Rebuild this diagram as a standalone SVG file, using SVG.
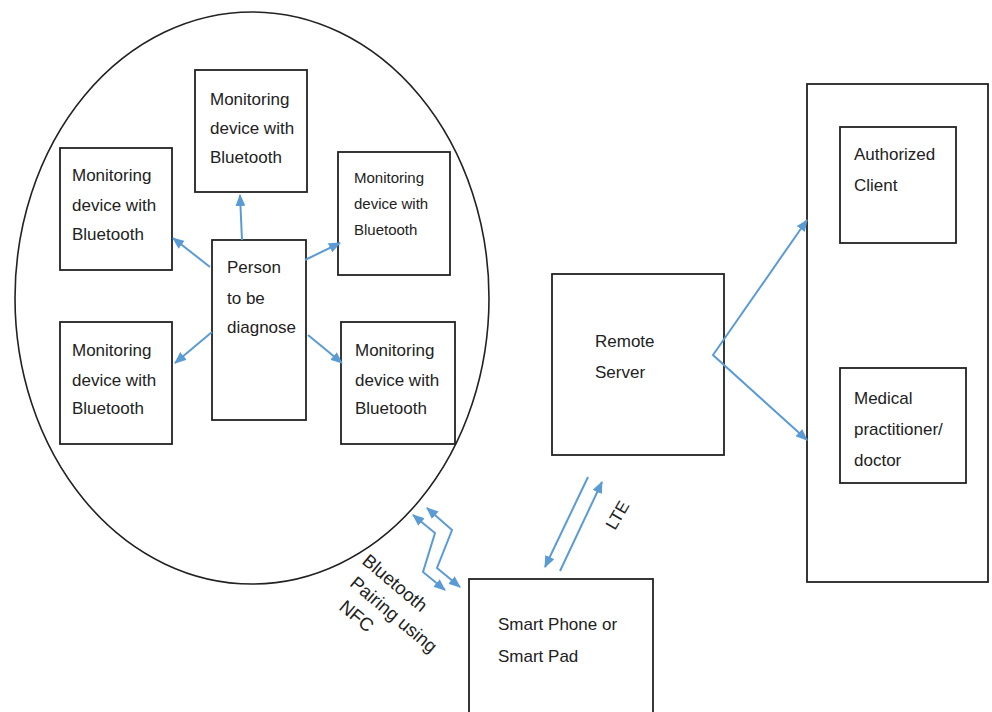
<svg xmlns="http://www.w3.org/2000/svg" width="992" height="712" viewBox="0 0 992 712">
<style>
.box{fill:#fff;stroke:#222;stroke-width:1.8}
.t{font-family:"Liberation Sans",Arial,sans-serif;font-size:17px;fill:#222}
.ts{font-family:"Liberation Sans",Arial,sans-serif;font-size:15px;fill:#222}
.tr{font-family:"Liberation Sans",Arial,sans-serif;font-size:18.5px;fill:#222}
.c{fill:none;stroke:#5b9bd5;stroke-width:2;stroke-linejoin:miter}
</style>
<defs>
<marker id="ah" viewBox="0 0 12 10" markerUnits="userSpaceOnUse" markerWidth="12" markerHeight="10" refX="11" refY="5" orient="auto-start-reverse">
<path d="M0,0 L12,5 L0,10 z" fill="#5b9bd5"/>
</marker>
</defs>
<rect width="992" height="712" fill="#fff"/>
<g id="group-circle">
<ellipse cx="252" cy="298" rx="237" ry="286" fill="none" stroke="#222" stroke-width="1.6"/>
</g>
<g id="node-device-top">
<rect class="box" x="195" y="70" width="112" height="122"/>
<text class="t" x="210" y="105">Monitoring</text>
<text class="t" x="210" y="134">device with</text>
<text class="t" x="210" y="163">Bluetooth</text>
</g>
<g id="node-device-left-top">
<rect class="box" x="60" y="148" width="112" height="122"/>
<text class="t" x="72" y="181">Monitoring</text>
<text class="t" x="72" y="211">device with</text>
<text class="t" x="72" y="240">Bluetooth</text>
</g>
<g id="node-device-right-top">
<rect class="box" x="338" y="152" width="112" height="123"/>
<text class="ts" x="354" y="183">Monitoring</text>
<text class="ts" x="354" y="209">device with</text>
<text class="ts" x="354" y="235">Bluetooth</text>
</g>
<g id="node-device-left-bottom">
<rect class="box" x="60" y="322" width="112" height="122"/>
<text class="t" x="72" y="356">Monitoring</text>
<text class="t" x="72" y="386">device with</text>
<text class="t" x="72" y="414">Bluetooth</text>
</g>
<g id="node-device-right-bottom">
<rect class="box" x="341" y="322" width="114" height="122"/>
<text class="t" x="355" y="356">Monitoring</text>
<text class="t" x="355" y="386">device with</text>
<text class="t" x="355" y="414">Bluetooth</text>
</g>
<g id="node-person">
<rect class="box" x="212" y="240" width="94" height="180"/>
<text class="t" x="227" y="273">Person</text>
<text class="t" x="227" y="304">to be</text>
<text class="t" x="227" y="333">diagnose</text>
</g>
<g id="node-server">
<rect class="box" x="552" y="274" width="172" height="181"/>
<text class="t" x="595" y="347">Remote</text>
<text class="t" x="595" y="378">Server</text>
</g>
<g id="node-phone">
<rect class="box" x="469" y="579" width="184" height="150"/>
<text class="t" x="498" y="630">Smart Phone or</text>
<text class="t" x="498" y="662">Smart Pad</text>
</g>
<g id="node-recipients">
<rect class="box" x="807" y="84" width="181" height="498"/>
</g>
<g id="node-client">
<rect class="box" x="840" y="127" width="116" height="116"/>
<text class="t" x="854" y="160">Authorized</text>
<text class="t" x="854" y="191">Client</text>
</g>
<g id="node-doctor">
<rect class="box" x="840" y="368" width="126" height="115"/>
<text class="t" x="854" y="404">Medical</text>
<text class="t" x="854" y="435">practitioner/</text>
<text class="t" x="854" y="466">doctor</text>
</g>
<g id="connectors">
<line class="c" x1="242" y1="240" x2="240" y2="195" marker-end="url(#ah)"/>
<line class="c" x1="210" y1="267" x2="173" y2="238" marker-end="url(#ah)"/>
<line class="c" x1="305" y1="260" x2="340" y2="243" marker-end="url(#ah)"/>
<line class="c" x1="212" y1="332" x2="175" y2="363" marker-end="url(#ah)"/>
<line class="c" x1="308" y1="335" x2="342" y2="363" marker-end="url(#ah)"/>
<polyline class="c" points="807,220 713,355 807,440" marker-start="url(#ah)" marker-end="url(#ah)"/>
<line class="c" x1="588" y1="477" x2="545" y2="567" marker-end="url(#ah)"/>
<line class="c" x1="560" y1="571" x2="602" y2="482" marker-end="url(#ah)"/>
<polyline class="c" points="413,515 435,533 423,572 445,590" marker-start="url(#ah)" marker-end="url(#ah)"/>
<polyline class="c" points="427,508 452,530 437,568 460,587" marker-start="url(#ah)" marker-end="url(#ah)"/>
<g transform="translate(615,531) rotate(-60)">
<text class="t" x="0" y="0">LTE</text>
</g>
<g transform="translate(370,552) rotate(40)">
<text class="tr" x="0" y="14">Bluetooth</text>
<text class="tr" x="5" y="39">Pairing using</text>
<text class="tr" x="12" y="64">NFC</text>
</g>
</g>
</svg>
